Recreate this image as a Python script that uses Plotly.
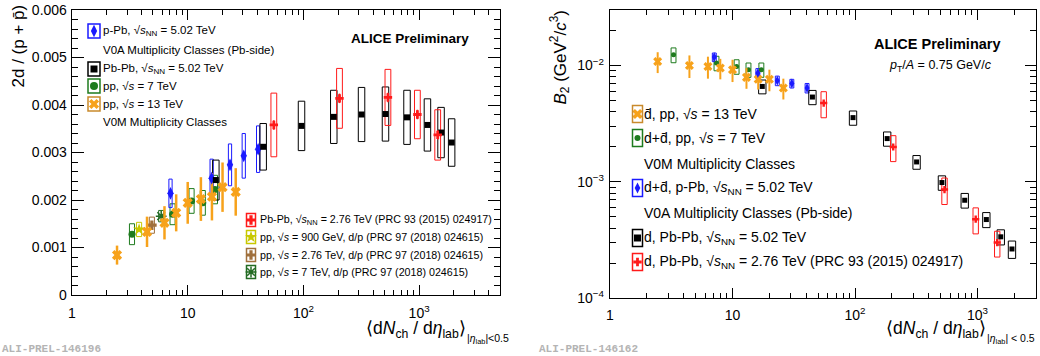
import math
import plotly.graph_objects as go

# ---------------- data ----------------
# pp 13 TeV, V0M multiplicity classes
pp13_dndeta = [2.45, 4.45, 6.3, 7.95, 10.0, 13.0, 16.2, 20.0, 26.0]
pp13_ratio = [0.84e-3, 1.33e-3, 1.52e-3, 1.73e-3, 1.94e-3, 2.02e-3, 2.07e-3, 2.27e-3, 2.17e-3]
pp13_ratio_err = [0.20e-3, 0.32e-3, 0.35e-3, 0.39e-3, 0.44e-3, 0.46e-3, 0.50e-3, 0.52e-3, 0.50e-3]
pp13_b2 = [0.0108, 0.0100, 0.0098, 0.0095, 0.0092, 0.0079, 0.0076, 0.0076, 0.0064]
pp13_b2_err = [0.0022, 0.0022, 0.0021, 0.0019, 0.0020, 0.0016, 0.0014, 0.0016, 0.0013]

# pp 7 TeV, V0M multiplicity classes
pp7_dndeta = [3.3, 7.4, 10.8, 13.5, 17.2]
pp7_ratio = [1.28e-3, 1.70e-3, 1.98e-3, 1.94e-3, 2.22e-3]
pp7_ratio_syst = [0.22e-3, 0.22e-3, 0.26e-3, 0.26e-3, 0.30e-3]
pp7_b2 = [0.01236, 0.0105, 0.0098, 0.0092, 0.0092]
pp7_b2_syst = [0.0018, 0.0015, 0.0014, 0.0013, 0.0013]

# p-Pb 5.02 TeV, V0A multiplicity classes
ppb_dndeta = [7.1, 16.1, 23.2, 30.5, 40.6]
ppb_ratio = [2.14e-3, 2.46e-3, 2.74e-3, 2.93e-3, 3.07e-3]
ppb_ratio_syst = [0.30e-3, 0.40e-3, 0.44e-3, 0.47e-3, 0.49e-3]
ppb_b2 = [0.0118, 0.0086, 0.0074, 0.0070, 0.0064]
ppb_b2_err = [0.0004, 0.0003, 0.0003, 0.0003, 0.0003]
ppb_b2_syst = [0.0010, 0.0008, 0.0007, 0.0006, 0.0006]

# Pb-Pb 5.02 TeV
pbpb5_dndeta = [17.5, 44.9, 96.3, 183, 318, 512, 786, 1180, 1547, 1910]
pbpb5_ratio = [2.42e-3, 3.12e-3, 3.56e-3, 3.75e-3, 3.80e-3, 3.81e-3, 3.74e-3, 3.58e-3, 3.42e-3, 3.21e-3]
pbpb5_ratio_syst = [0.42e-3, 0.49e-3, 0.52e-3, 0.56e-3, 0.57e-3, 0.57e-3, 0.57e-3, 0.55e-3, 0.53e-3, 0.50e-3]
pbpb5_b2 = [0.0066, 0.00535, 0.00356, 0.00235, 0.00148, 0.000984, 0.000693, 0.000473, 0.000336, 0.000264]
pbpb5_b2_syst = [0.0009, 0.00075, 0.0005, 0.00033, 0.0002, 0.00014, 0.0001, 0.00007, 0.00005, 0.000045]

# Pb-Pb 2.76 TeV (PRC 93 (2015) 024917)
pbpb276_dndeta = [55.5, 205, 537.5, 966, 1447.5]
pbpb276_ratio = [3.58e-3, 4.14e-3, 4.16e-3, 3.80e-3, 3.37e-3]
pbpb276_ratio_err = [0.10e-3, 0.10e-3, 0.10e-3, 0.10e-3, 0.10e-3]
pbpb276_ratio_syst = [0.67e-3, 0.63e-3, 0.59e-3, 0.51e-3, 0.53e-3]
pbpb276_b2 = [0.00475, 0.00199, 0.000857, 0.000476, 0.0003]
pbpb276_b2_err = [0.0002, 0.00009, 0.00004, 0.00002, 0.000015]
pbpb276_b2_syst = [0.0012, 0.0005, 0.00022, 0.00012, 0.000075]

# pp minimum bias d/p (PRC 97 (2018) 024615)
pp900_dndeta = [3.8]
pp900_ratio = [1.38e-3]
pp900_ratio_syst = [0.15e-3]
pp276_dndeta = [4.9]
pp276_ratio = [1.47e-3]
pp276_ratio_syst = [0.17e-3]
pp7mb_dndeta = [5.9]
pp7mb_ratio = [1.66e-3]
pp7mb_ratio_syst = [0.12e-3]

x_tickvals = [1, 10, 100, 1000]
x_ticktext = ["1", "10", "10<sup>2</sup>", "10<sup>3</sup>"]
y1_tickvals = [0, 0.001, 0.002, 0.003, 0.004, 0.005, 0.006]
y1_ticktext = ["0", "0.001", "0.002", "0.003", "0.004", "0.005", "0.006"]
y2_tickvals = [1e-4, 1e-3, 1e-2]
y2_ticktext = ["10<sup>\u22124</sup>", "10<sup>\u22123</sup>", "10<sup>\u22122</sup>"]

# ---------------- styling ----------------
FONT = "Liberation Sans, Arial, Helvetica, sans-serif"
W, H = 1040, 356
ORANGE = "#f7a21b"
ORANGE_BOX = "#c98a2c"
GREEN = "#1e7b1e"
BLUE = "#1a1aff"
RED = "#ff1a1a"
BLACK = "#000000"
YELLOW = "#c8c800"
BROWN = "#a0703c"
DGREEN = "#236b23"

# plot areas in pixels
L_X0, L_X1, L_Y0, L_Y1 = 72, 500, 10, 295
R_X0, R_X1, R_Y0, R_Y1 = 610, 1036, 10, 298


def boxes(xs, ys, ss, hw):
    px, py = [], []
    for x, y, s in zip(xs, ys, ss):
        x0, x1 = x * 10 ** (-hw), x * 10 ** hw
        px += [x0, x1, x1, x0, x0, None]
        py += [y - s, y - s, y + s, y + s, y - s, None]
    return px, py


fig = go.Figure()


def add_boxes(xs, ys, ss, hw, color, xa, ya, width=1):
    bx, by = boxes(xs, ys, ss, hw)
    fig.add_trace(go.Scatter(x=bx, y=by, mode="lines", line=dict(color=color, width=width),
                             xaxis=xa, yaxis=ya, hoverinfo="skip", showlegend=False))


def add_pts(xs, ys, color, symbol, size, xa, ya, err=None, thick=1.5, lw=0, lc=None):
    ey = dict(type="data", array=err, visible=True, thickness=thick, width=0, color=color) if err else None
    fig.add_trace(go.Scatter(x=xs, y=ys, mode="markers",
                             marker=dict(color=color, symbol=symbol, size=size,
                                         line=dict(width=lw, color=lc or color)),
                             error_y=ey, xaxis=xa, yaxis=ya, showlegend=False, hoverinfo="skip"))


# ---------------- left panel ----------------
add_boxes(pp7_dndeta, pp7_ratio, pp7_ratio_syst, 0.022, GREEN, "x", "y")
add_boxes(pp900_dndeta, pp900_ratio, pp900_ratio_syst, 0.022, YELLOW, "x", "y")
add_boxes(pp276_dndeta, pp276_ratio, pp276_ratio_syst, 0.022, BROWN, "x", "y")
add_boxes(pp7mb_dndeta, pp7mb_ratio, pp7mb_ratio_syst, 0.022, DGREEN, "x", "y")
add_boxes(ppb_dndeta, ppb_ratio, ppb_ratio_syst, 0.014, BLUE, "x", "y")
add_boxes(pbpb5_dndeta, pbpb5_ratio, pbpb5_ratio_syst, 0.028, BLACK, "x", "y")
add_boxes(pbpb276_dndeta, pbpb276_ratio, pbpb276_ratio_syst, 0.025, RED, "x", "y")

add_pts(pp900_dndeta, pp900_ratio, YELLOW, "star", 9, "x", "y")
add_pts(pp276_dndeta, pp276_ratio, BROWN, "cross", 8, "x", "y")
add_pts(pp7mb_dndeta, pp7mb_ratio, DGREEN, "asterisk-open", 9, "x", "y", lw=1.5, lc=DGREEN)
add_pts(pp7_dndeta, pp7_ratio, GREEN, "circle", 7, "x", "y")
add_pts(pp13_dndeta, pp13_ratio, ORANGE, "x", 9, "x", "y", err=pp13_ratio_err, thick=2.5)
add_pts(ppb_dndeta, ppb_ratio, BLUE, "diamond-tall", 9, "x", "y")
add_pts(pbpb5_dndeta, pbpb5_ratio, BLACK, "square", 6, "x", "y")
add_pts(pbpb276_dndeta, pbpb276_ratio, RED, "cross", 7, "x", "y", err=pbpb276_ratio_err, thick=1.5)

# ---------------- right panel ----------------
add_boxes(pp7_dndeta, pp7_b2, pp7_b2_syst, 0.02, GREEN, "x2", "y2")
add_boxes(ppb_dndeta, ppb_b2, ppb_b2_syst, 0.016, BLUE, "x2", "y2")
add_boxes(pbpb5_dndeta, pbpb5_b2, pbpb5_b2_syst, 0.03, BLACK, "x2", "y2")
add_boxes(pbpb276_dndeta, pbpb276_b2, pbpb276_b2_syst, 0.022, RED, "x2", "y2")

add_pts(pp7_dndeta, pp7_b2, GREEN, "circle", 5, "x2", "y2")
add_pts(pp13_dndeta, pp13_b2, ORANGE, "x", 8, "x2", "y2", err=pp13_b2_err, thick=2)
add_pts(ppb_dndeta, ppb_b2, BLUE, "diamond-tall", 7, "x2", "y2", err=ppb_b2_err, thick=1.5)
add_pts(pbpb5_dndeta, pbpb5_b2, BLACK, "square", 5, "x2", "y2")
add_pts(pbpb276_dndeta, pbpb276_b2, RED, "cross", 6, "x2", "y2", err=pbpb276_b2_err, thick=1.5)

# ---------------- legends (pixel overlay axes) ----------------
SNN = "\u221a<i>s</i><sub>NN</sub>"
SS = "\u221a<i>s</i>"
DBAR = "d\u0304"
legend_left_top = [
    (31, "p-Pb, " + SNN + " = 5.02 TeV", BLUE, "diamond-tall", 9, BLUE),
    (50, "V0A Multiplicity Classes (Pb-side)", None, None, 0, None),
    (69, "Pb-Pb, " + SNN + " = 5.02 TeV", BLACK, "square", 7, BLACK),
    (86, "pp, " + SS + " = 7 TeV", GREEN, "circle", 8, GREEN),
    (104, "pp, " + SS + " = 13 TeV", ORANGE, "x", 9, ORANGE_BOX),
    (122, "V0M Multiplicity Classes", None, None, 0, None),
]
legend_left_bot = [
    (220, "Pb-Pb, " + SNN + " = 2.76 TeV (PRC 93 (2015) 024917)", RED, "cross", 8, RED),
    (237, "pp, " + SS + " = 900 GeV, d/p (PRC 97 (2018) 024615)", YELLOW, "star", 9, YELLOW),
    (255, "pp, " + SS + " = 2.76 TeV, d/p (PRC 97 (2018) 024615)", BROWN, "cross", 8, BROWN),
    (272, "pp, " + SS + " = 7 TeV, d/p (PRC 97 (2018) 024615)", DGREEN, "asterisk-open", 9, DGREEN),
]
legend_right = [
    (114, DBAR + ", pp, " + SS + " = 13 TeV", ORANGE, "x", 9, ORANGE_BOX),
    (138, "d+" + DBAR + ", pp, " + SS + " = 7 TeV", GREEN, "circle", 6, GREEN),
    (164, "V0M Multiplicity Classes", None, None, 0, None),
    (188, "d+" + DBAR + ", p-Pb, " + SNN + " = 5.02 TeV", BLUE, "diamond-tall", 8, BLUE),
    (213, "V0A Multiplicity Classes (Pb-side)", None, None, 0, None),
    (238, "d, Pb-Pb, " + SNN + " = 5.02 TeV", BLACK, "square", 7, BLACK),
    (262, "d, Pb-Pb, " + SNN + " = 2.76 TeV (PRC 93 (2015) 024917)", RED, "cross", 7, RED),
]

shapes = []
annotations = []


def build_legend(entries, kx, bw, bh, tx, fsize):
    for (yy, text, col, sym, sz, bcol) in entries:
        if sym is not None:
            shapes.append(dict(type="rect", xref="x3", yref="y3", x0=kx - bw / 2, x1=kx + bw / 2,
                               y0=yy - bh / 2, y1=yy + bh / 2, line=dict(color=bcol, width=1.5),
                               fillcolor="rgba(0,0,0,0)", layer="above"))
            lw = 1.5 if sym == "asterisk-open" else 0
            fig.add_trace(go.Scatter(x=[kx], y=[yy], mode="markers", xaxis="x3", yaxis="y3",
                                     marker=dict(color=col, symbol=sym, size=sz, line=dict(width=lw, color=col)),
                                     showlegend=False, hoverinfo="skip"))
        annotations.append(dict(xref="x3", yref="y3", x=tx, y=yy, text=text, showarrow=False,
                                xanchor="left", yanchor="middle",
                                font=dict(family=FONT, size=fsize, color="black")))


build_legend(legend_left_top, 94, 12, 14, 101, 11.5)
build_legend(legend_left_bot, 251, 9, 13, 258, 10.7)
build_legend(legend_right, 637.5, 10, 17, 642, 14)

# texts
def ann(x, y, text, size, xanchor="center", yanchor="middle", angle=0, color="black", family=FONT, pad=1):
    annotations.append(dict(xref="x3", yref="y3", x=x, y=y, text=text, showarrow=False,
                            xanchor=xanchor, yanchor=yanchor, textangle=angle, borderpad=pad,
                            font=dict(family=family, size=size, color=color)))


ann(471, 38, "<b>ALICE Preliminary</b>", 13.5, xanchor="right")
ann(1003, 44, "<b>ALICE Preliminary</b>", 14.5, xanchor="right")
ann(994, 66, "<i>p</i><sub>T</sub>/<i>A</i> = 0.75 GeV/<i>c</i>", 12.5, xanchor="right")

ann(18, 3, "2d / (p + p\u0304)", 17, xanchor="center", yanchor="top", angle=-90)
ann(560, 8, "<i>B</i><sub>2</sub> (GeV<sup>2</sup>/<i>c</i><sup>3</sup>)", 17, xanchor="center", yanchor="top", angle=-90)

ann(467, 329, "\u27e8d<i>N</i><sub>ch</sub> / d<i>\u03b7</i><sub>lab</sub>\u27e9", 17.5, xanchor="right", pad=0)
ann(466, 339, "|<i>\u03b7</i><sub>lab</sub>|&lt;0.5", 10.5, xanchor="left", pad=0)
ann(987, 329, "\u27e8d<i>N</i><sub>ch</sub> / d<i>\u03b7</i><sub>lab</sub>\u27e9", 17.5, xanchor="right", pad=0)
ann(986, 339, "|<i>\u03b7</i><sub>lab</sub>| &lt; 0.5", 10.5, xanchor="left", pad=0)

ann(0, 349, "<b>ALI-PREL-146196</b>", 11, xanchor="left", color="#b4b4b4", family="Liberation Mono, Courier New, monospace")
ann(537, 349, "<b>ALI-PREL-146162</b>", 11, xanchor="left", color="#b4b4b4", family="Liberation Mono, Courier New, monospace")

# ---------------- axes ----------------
def minor_log(maxv):
    vals = []
    for dec in [1, 10, 100, 1000, 10000]:
        for m in range(2, 10):
            if m * dec <= maxv:
                vals.append(m * dec)
    return vals


common = dict(showgrid=False, zeroline=False, showline=True, linecolor="black", linewidth=1.3,
              mirror="allticks", ticks="inside", tickcolor="black", tickwidth=1,
              tickfont=dict(family=FONT, size=14, color="black"))

fig.update_layout(
    width=W, height=H, margin=dict(l=0, r=0, t=0, b=0, autoexpand=False),
    paper_bgcolor="white", plot_bgcolor="rgba(0,0,0,0)", showlegend=False,
    xaxis=dict(type="log", range=[0, math.log10(5000)], domain=[L_X0 / W, L_X1 / W], anchor="y",
               tickmode="array", tickvals=x_tickvals, ticktext=x_ticktext, ticklen=10,
               minor=dict(tickmode="array", tickvals=minor_log(5000), ticks="inside", ticklen=5,
                          tickcolor="black", showgrid=False),
               ticklabelstandoff=5, **common),
    yaxis=dict(range=[0, 0.006], domain=[1 - L_Y1 / H, 1 - L_Y0 / H], anchor="x",
               tickmode="array", tickvals=y1_tickvals, ticktext=y1_ticktext, ticklen=12,
               minor=dict(dtick=0.0002, ticks="inside", ticklen=6, tickcolor="black", showgrid=False),
               ticklabelstandoff=1, **common),
    xaxis2=dict(type="log", range=[0, math.log10(3000)], domain=[R_X0 / W, R_X1 / W], anchor="y2",
                tickmode="array", tickvals=x_tickvals, ticktext=x_ticktext, ticklen=10,
                minor=dict(tickmode="array", tickvals=minor_log(3000), ticks="inside", ticklen=5,
                           tickcolor="black", showgrid=False),
                ticklabelstandoff=4, **common),
    yaxis2=dict(type="log", range=[-4, math.log10(0.03)], domain=[1 - R_Y1 / H, 1 - R_Y0 / H], anchor="x2",
                tickmode="array", tickvals=y2_tickvals, ticktext=y2_ticktext, ticklen=11,
                minor=dict(tickmode="array", tickvals=[m * 10.0 ** e for e in (-4, -3, -2) for m in range(2, 10)],
                           ticks="inside", ticklen=6, tickcolor="black", showgrid=False),
                ticklabelstandoff=2, **common),
    xaxis3=dict(range=[0, W], domain=[0, 1], visible=False, anchor="y3", fixedrange=True),
    yaxis3=dict(range=[H, 0], domain=[0, 1], visible=False, anchor="x3", fixedrange=True),
    shapes=shapes, annotations=annotations,
)

fig.write_html("out.html", config={"displayModeBar": False, "staticPlot": True},
               post_script="document.body.style.margin='0';document.body.style.overflow='hidden';")
